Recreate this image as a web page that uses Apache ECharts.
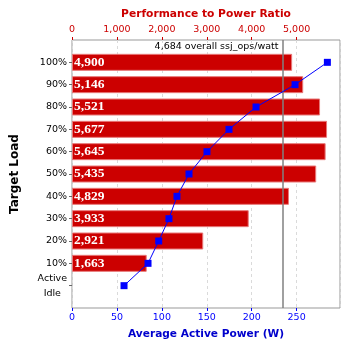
<!DOCTYPE html>
<html><head><meta charset="utf-8">
<script src="https://cdn.jsdelivr.net/npm/echarts@6/dist/echarts.min.js"></script>
<style>html,body{margin:0;padding:0;background:#fff}#c{width:348px;height:348px}</style>
</head><body><div id="c"></div>
<script>
var categories = ['', '100%', '90%', '80%', '70%', '60%', '50%', '40%', '30%', '20%', '10%', 'Active\nIdle', ''];
var perfRatio = [null, 4900, 5146, 5521, 5677, 5645, 5435, 4829, 3933, 2921, 1663, null, null];
var avgPower = [null, 284.2, 248.2, 204.8, 174.7, 150.2, 130.2, 116.8, 107.9, 96.5, 84.6, 57.9, null];
var overallRatio = 4684;
var ratioMax = 5965, powerMax = 298.25;

var chart = echarts.init(document.getElementById('c'));
var fmt = function (v) { return Number(v).toLocaleString('en-US'); };
chart.setOption({
  animation: false,
  grid: { left: 72, right: 8, top: 40, bottom: 40, show: true, borderColor: '#999', borderWidth: 1, containLabel: false },
  xAxis: [{
    type: 'value', position: 'top', min: 0, max: ratioMax, interval: 1000,
    name: 'Performance to Power Ratio', nameLocation: 'middle', nameGap: 20,
    nameTextStyle: { color: '#cc0000', fontWeight: 'bold', fontSize: 10.7, fontFamily: 'DejaVu Sans' },
    axisLine: { show: false },
    axisTick: { show: true, length: 3, lineStyle: { color: '#cc0000' } },
    axisLabel: { color: '#cc0000', fontSize: 9.5, fontFamily: 'DejaVu Sans', margin: 5, formatter: fmt, showMaxLabel: false },
    splitLine: { show: true, lineStyle: { color: '#dadada', type: [3, 3] } }
  }, {
    type: 'value', position: 'bottom', min: 0, max: powerMax, interval: 50,
    name: 'Average Active Power (W)', nameLocation: 'middle', nameGap: 21,
    nameTextStyle: { color: '#0000cc', fontWeight: 'bold', fontSize: 10.6, fontFamily: 'DejaVu Sans' },
    axisLine: { show: false },
    axisTick: { show: true, length: 3, lineStyle: { color: '#0000ff' } },
    axisLabel: { color: '#0000ff', fontSize: 9.5, fontFamily: 'DejaVu Sans', margin: 5, showMaxLabel: false },
    splitLine: { show: false }
  }],
  yAxis: {
    type: 'category', data: categories, inverse: true, boundaryGap: false,
    name: 'Target Load', nameLocation: 'middle', nameGap: 51, nameRotate: 90,
    nameTextStyle: { color: '#000', fontWeight: 'bold', fontSize: 12, fontFamily: 'DejaVu Sans' },
    axisLine: { show: false },
    axisTick: { show: true, length: 3, lineStyle: { color: '#666' }, interval: function (i, v) { return v !== ''; } },
    axisLabel: {
      interval: 0, color: '#000', fontSize: 9.5, fontFamily: 'DejaVu Sans', margin: 5,
      formatter: function (v) { return v.indexOf('\n') >= 0 ? v.split('\n').map(function (s) { return '{c|' + s + '}'; }).join('\n') : v; },
      rich: { c: { align: 'center', fontSize: 9.5, fontFamily: 'DejaVu Sans', color: '#000', lineHeight: 15 } }
    },
    splitLine: { show: false }
  },
  series: [{
    type: 'bar', xAxisIndex: 0, data: perfRatio, barWidth: 17,
    itemStyle: { color: '#cc0000', borderColor: '#e87878', borderWidth: 1 },
    label: { show: true, position: 'insideLeft', distance: 2, color: '#fff', fontWeight: 'bold', fontSize: 13.5, fontFamily: 'Liberation Serif', formatter: function (p) { return fmt(p.value); } },
    markLine: {
      silent: true, symbol: 'none', label: { show: false },
      lineStyle: { color: '#808080', width: 1.5, type: 'solid' },
      data: [{ xAxis: overallRatio }]
    },
    z: 2
  }, {
    type: 'line', xAxisIndex: 1, data: avgPower, symbol: 'rect', symbolSize: 7,
    lineStyle: { color: '#0000ff', width: 1 }, itemStyle: { color: '#0000ff' }, z: 5
  }]
});
var px = chart.convertToPixel({ xAxisIndex: 0 }, overallRatio);
chart.setOption({
  graphic: [{ type: 'text', x: px - 4, y: 47, style: { text: fmt(overallRatio) + ' overall ssj_ops/watt', align: 'right', verticalAlign: 'middle', fill: '#000', font: '9.5px "DejaVu Sans"' }, z: 10 }]
});
</script></body></html>
